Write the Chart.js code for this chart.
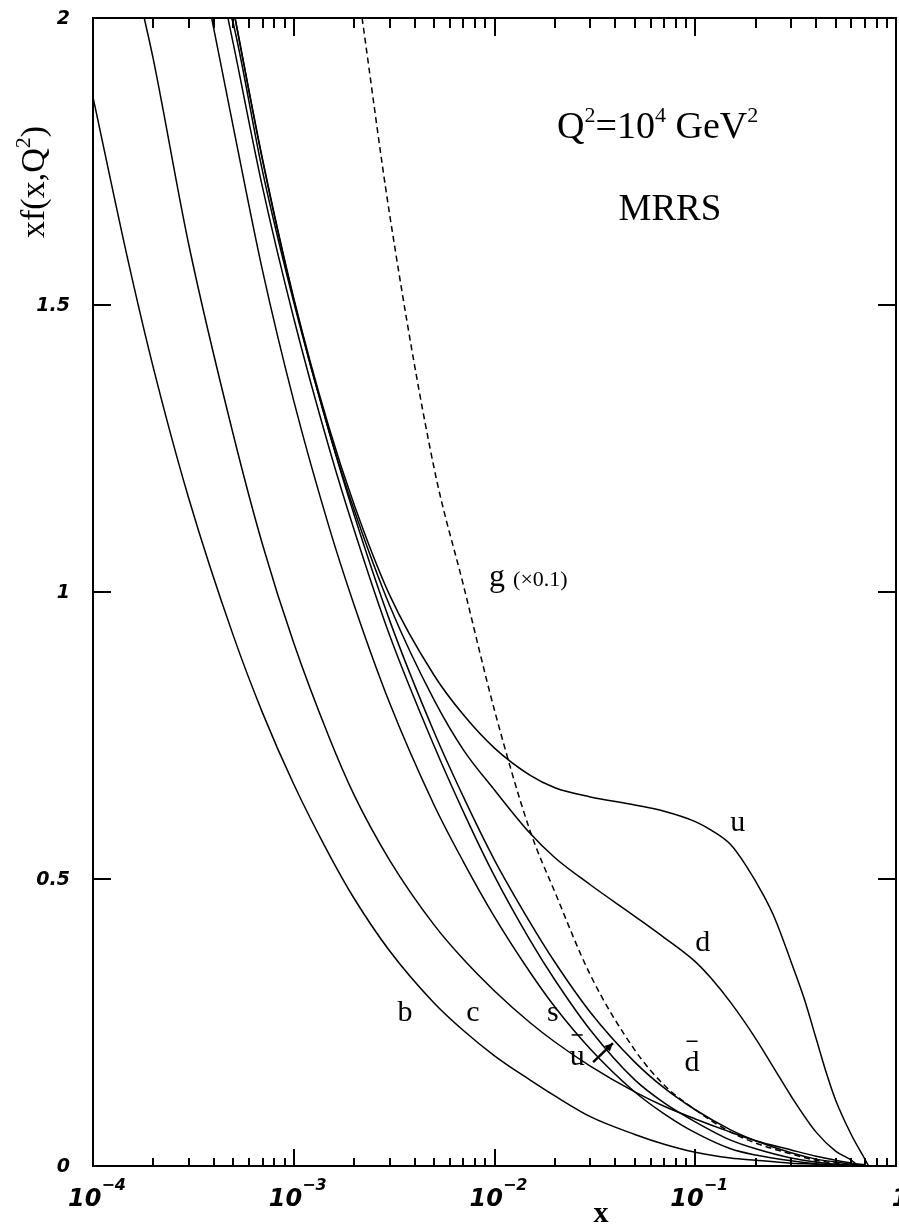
<!DOCTYPE html>
<html><head><meta charset="utf-8">
<script src="https://cdn.jsdelivr.net/npm/chart.js@4.4.0/dist/chart.umd.min.js"></script>
<style>html,body{margin:0;padding:0;background:#fff;}#wrap{width:899px;height:1229px;}</style>
</head><body><div id="wrap"><canvas id="c" width="899" height="1229"></canvas></div>
<script>
// ---- data ----
const bX=[1e-4,1.5e-4,2e-4,3e-4,5e-4,7e-4,1e-3,1.5e-3,2e-3,3e-3,5e-3,7e-3,1e-2,1.5e-2,2e-2,3e-2,5e-2,7e-2,0.1,0.15,0.2,0.3,0.4,0.5];
const bY=[1.862,1.575,1.390,1.163,0.924,0.789,0.665,0.543,0.466,0.375,0.284,0.236,0.192,0.150,0.122,0.086,0.055,0.038,0.024,0.014,0.010,0.005,0.003,0.001];
const cX=[1.8e-4,2e-4,3e-4,5e-4,7e-4,1e-3,1.5e-3,2e-3,3e-3,5e-3,7e-3,1e-2,1.5e-2,2e-2,3e-2,5e-2,7e-2,0.1,0.15,0.2,0.3,0.4,0.5,0.6,0.7];
const cY=[2.0,1.927,1.605,1.274,1.082,0.911,0.747,0.646,0.533,0.420,0.360,0.305,0.250,0.216,0.174,0.129,0.104,0.082,0.059,0.044,0.028,0.017,0.010,0.005,0.002];
const sX=[3.9e-4,5e-4,7e-4,1e-3,1.5e-3,2e-3,3e-3,5e-3,7e-3,1e-2,1.5e-2,2e-2,3e-2,5e-2,7e-2,0.1,0.15,0.2,0.3,0.4,0.5];
const sY=[2.0,1.810,1.559,1.333,1.113,0.977,0.807,0.629,0.530,0.434,0.338,0.277,0.204,0.129,0.091,0.058,0.030,0.019,0.009,0.004,0.002];
const ubarX=[4.7e-4,5e-4,7e-4,1e-3,1.5e-3,2e-3,3e-3,5e-3,7e-3,1e-2,1.5e-2,2e-2,3e-2,5e-2,7e-2,0.1,0.15,0.2,0.3,0.4,0.5,0.6];
const ubarY=[2.0,1.955,1.704,1.477,1.251,1.108,0.925,0.732,0.617,0.505,0.394,0.324,0.237,0.150,0.110,0.077,0.045,0.030,0.014,0.007,0.003,0.001];
const dbarX=[4.9e-4,5e-4,7e-4,1e-3,1.5e-3,2e-3,3e-3,5e-3,7e-3,1e-2,1.5e-2,2e-2,3e-2,5e-2,7e-2,0.1,0.15,0.2,0.3,0.4,0.5,0.6,0.7];
const dbarY=[2.0,1.99,1.732,1.505,1.279,1.134,0.951,0.756,0.643,0.533,0.425,0.355,0.268,0.181,0.136,0.098,0.063,0.044,0.023,0.012,0.007,0.003,0.001];
const uX=[5.1e-4,7e-4,1e-3,1.5e-3,2e-3,3e-3,5e-3,7e-3,1e-2,1.5e-2,2e-2,3e-2,5e-2,7e-2,0.1,0.12,0.15,0.18,0.22,0.25,0.3,0.35,0.4,0.45,0.5,0.6,0.7,0.73];
const uY=[2.0,1.753,1.512,1.286,1.152,0.995,0.855,0.786,0.728,0.681,0.659,0.643,0.629,0.618,0.600,0.585,0.560,0.522,0.470,0.430,0.356,0.290,0.222,0.162,0.115,0.054,0.012,0];
const dX=[5.1e-4,7e-4,1e-3,1.5e-3,2e-3,3e-3,5e-3,7e-3,1e-2,1.5e-2,2e-2,3e-2,5e-2,7e-2,0.1,0.12,0.15,0.2,0.25,0.3,0.4,0.5,0.6,0.65];
const dY=[2.0,1.751,1.509,1.279,1.143,0.977,0.812,0.725,0.655,0.580,0.537,0.490,0.435,0.398,0.356,0.327,0.285,0.222,0.167,0.122,0.059,0.026,0.010,0];
const gX=[2.19e-3,3e-3,5e-3,7e-3,1e-2,1.5e-2,2e-2,3e-2,5e-2,7e-2,0.1,0.15,0.2,0.3,0.4,0.5,0.6];
const gY=[2.0,1.659,1.216,1.012,0.794,0.585,0.477,0.333,0.202,0.141,0.098,0.059,0.040,0.021,0.010,0.005,0.002];

const yTickValues=[0,0.5,1,1.5,2];
const yTickLabels=['0','0.5','1','1.5','2'];
const xMajorValues=[1e-4,1e-3,1e-2,1e-1,1];
const xMajorExponents=['−4','−3','−2','−1',''];

// curve labels: [text, x, y, overbar]
const curveLabels=[['u',0.163,0.598,false],['d',0.109,0.388,false],['b',3.58e-3,0.267,false],['c',7.8e-3,0.267,false],['s',0.0195,0.267,false],['u',0.0258,0.190,true],['d',0.0964,0.179,true]];
const gLabelPos=[0.0094,1.01];
const arrowFrom=[0.031,0.181], arrowTo=[0.0389,0.214];
const q2Pos=[0.0205,1.791];
const mrrsPos=[0.0748,1.648];

function pts(xs,ys){return xs.map((x,i)=>({x:x,y:ys[i]}));}
function ds(xs,ys,dash){return {data:pts(xs,ys),borderColor:'#000',borderWidth:1.5,pointRadius:0,fill:false,cubicInterpolationMode:'monotone',borderDash:dash||[]};}

function rich(ctx,segs,x,y,align){
  let w=0;segs.forEach(s=>{ctx.font=s.f;w+=ctx.measureText(s.t).width;});
  let cx=align==='center'?x-w/2:(align==='right'?x-w:x);
  segs.forEach(s=>{ctx.font=s.f;ctx.textAlign='left';ctx.fillText(s.t,cx,y+(s.dy||0));cx+=ctx.measureText(s.t).width;});
  return w;
}

const deco={id:'deco',afterDraw(chart){
  const ctx=chart.ctx,a=chart.chartArea,xs=chart.scales.x,ys=chart.scales.y;
  ctx.save();ctx.strokeStyle='#000';ctx.fillStyle='#000';ctx.lineWidth=2;
  ctx.strokeRect(a.left,a.top,a.right-a.left,a.bottom-a.top);
  ctx.lineWidth=2;ctx.beginPath();
  for(let e=-4;e<0;e++){for(let k=1;k<10;k++){const v=k*Math.pow(10,e);const px=Math.round(xs.getPixelForValue(v));
    const Lb=k===1?17:8,Lt=k===1?18:10;ctx.moveTo(px,a.bottom);ctx.lineTo(px,a.bottom-Lb);ctx.moveTo(px,a.top);ctx.lineTo(px,a.top+Lt);}}
  yTickValues.forEach(v=>{const py=Math.round(ys.getPixelForValue(v));ctx.moveTo(a.left,py);ctx.lineTo(a.left+18,py);ctx.moveTo(a.right,py);ctx.lineTo(a.right-18,py);});
  ctx.stroke();
  // y tick labels
  ctx.textBaseline='middle';
  yTickValues.forEach((v,i)=>{ctx.font='bold italic 19px "DejaVu Sans"';ctx.textAlign='right';ctx.fillText(yTickLabels[i],70,ys.getPixelForValue(v)+1);});
  // x tick labels
  ctx.textBaseline='alphabetic';
  xMajorValues.forEach((v,i)=>{const px=xs.getPixelForValue(v);
    const segs=[{t:v===1?'1':'10',f:'bold italic 24px "DejaVu Sans"'}];
    if(xMajorExponents[i])segs.push({t:xMajorExponents[i],f:'bold italic 16px "DejaVu Sans"',dy:-16});
    rich(ctx,segs,px+4,a.bottom+40,'center');});
  // axis titles
  ctx.font='bold 30px "Liberation Serif"';ctx.textAlign='center';ctx.fillText('x',601,1222);
  ctx.save();ctx.translate(44,182);ctx.rotate(-Math.PI/2);
  rich(ctx,[{t:'xf(x,Q',f:'34px "Liberation Serif"'},{t:'2',f:'22px "Liberation Serif"',dy:-14},{t:')',f:'34px "Liberation Serif"'}],0,0,'center');
  ctx.restore();
  // annotations
  const P=(x,y)=>[xs.getPixelForValue(x),ys.getPixelForValue(y)];
  let p=P(q2Pos[0],q2Pos[1]);
  rich(ctx,[{t:'Q',f:'38px "Liberation Serif"'},{t:'2',f:'22px "Liberation Serif"',dy:-16},{t:'=10',f:'38px "Liberation Serif"'},{t:'4',f:'22px "Liberation Serif"',dy:-16},{t:' GeV',f:'38px "Liberation Serif"'},{t:'2',f:'22px "Liberation Serif"',dy:-16}],p[0],p[1],'left');
  p=P(mrrsPos[0],mrrsPos[1]);ctx.font='37px "Liberation Serif"';ctx.textAlign='center';ctx.fillText('MRRS',p[0],p[1]);
  p=P(gLabelPos[0],gLabelPos[1]);
  rich(ctx,[{t:'g ',f:'32px "Liberation Serif"'},{t:'(×0.1)',f:'22px "Liberation Serif"'}],p[0],p[1],'left');
  ctx.textBaseline='middle';
  curveLabels.forEach(l=>{const q=P(l[1],l[2]);ctx.font='30px "Liberation Serif"';ctx.textAlign='center';ctx.fillText(l[0],q[0],q[1]);
    if(l[3]){const w=ctx.measureText(l[0]).width;ctx.lineWidth=1.5;ctx.beginPath();ctx.moveTo(q[0]-w/2+2,q[1]-22);ctx.lineTo(q[0]+w/2-2,q[1]-22);ctx.stroke();}});
  // arrow
  const f=P(arrowFrom[0],arrowFrom[1]),t=P(arrowTo[0],arrowTo[1]);
  ctx.lineWidth=2.5;ctx.beginPath();ctx.moveTo(f[0],f[1]);ctx.lineTo(t[0],t[1]);ctx.stroke();
  const ang=Math.atan2(t[1]-f[1],t[0]-f[0]);
  ctx.beginPath();ctx.moveTo(t[0],t[1]);ctx.lineTo(t[0]-9*Math.cos(ang-0.45),t[1]-9*Math.sin(ang-0.45));ctx.lineTo(t[0]-9*Math.cos(ang+0.45),t[1]-9*Math.sin(ang+0.45));ctx.closePath();ctx.fill();
  ctx.restore();
}};

new Chart(document.getElementById('c'),{
  type:'line',
  data:{datasets:[ds(bX,bY),ds(cX,cY),ds(sX,sY),ds(ubarX,ubarY),ds(dbarX,dbarY),ds(uX,uY),ds(dX,dY),ds(gX,gY,[6,4])]},
  options:{responsive:false,animation:false,devicePixelRatio:1,
    layout:{padding:{left:93,right:3,top:18,bottom:63}},
    plugins:{legend:{display:false},tooltip:{enabled:false}},
    scales:{
      x:{type:'logarithmic',min:1e-4,max:1,ticks:{display:false},grid:{display:false,drawTicks:false},border:{display:false}},
      y:{type:'linear',min:0,max:2,ticks:{display:false},grid:{display:false,drawTicks:false},border:{display:false}}
    }},
  plugins:[deco]
});
</script></body></html>
